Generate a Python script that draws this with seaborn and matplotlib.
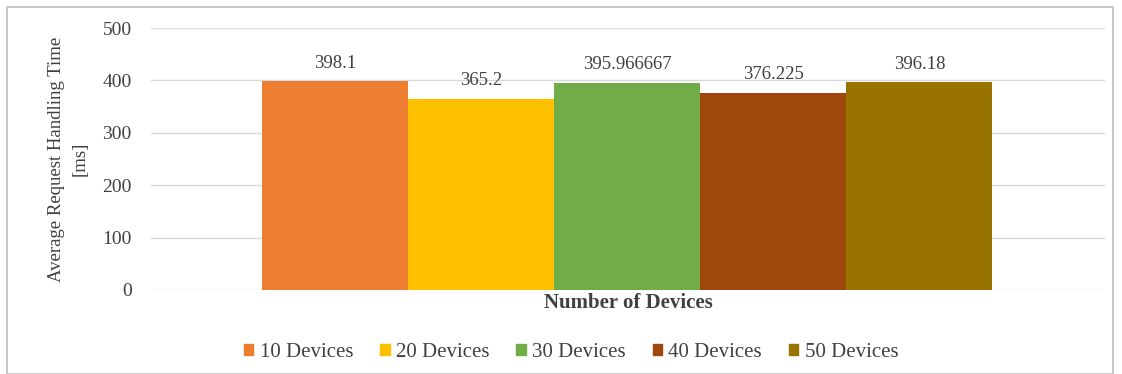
import matplotlib
matplotlib.use("Agg")
import matplotlib.pyplot as plt
import seaborn as sns
import pandas as pd
from matplotlib.patches import Rectangle

categories = ["10 Devices", "20 Devices", "30 Devices", "40 Devices", "50 Devices"]
values = [398.1, 365.2, 395.966667, 376.225, 396.18]
value_labels = ["398.1", "365.2", "395.966667", "376.225", "396.18"]
colors = ["#ED7D31", "#FFC000", "#70AD47", "#9E480E", "#997300"]
yticks = [0, 100, 200, 300, 400, 500]

sns.set_theme(style="white")
plt.rcParams['font.family'] = ['Liberation Serif', 'DejaVu Serif']

df = pd.DataFrame({"Devices": categories, "Time": values})

fig = plt.figure(figsize=(11.22, 3.74), dpi=100)
ax = fig.add_axes([0.1346, 0.2246, 0.8502, 0.7004])

sns.barplot(data=df, x="Devices", y="Time", hue="Devices", palette=colors,
            width=1.0, dodge=False, legend=False, ax=ax, saturation=1,
            linewidth=0)

ax.set_xlim(-1.26, 5.27)
ax.set_ylim(0, 500)
ax.set_yticks(yticks)
ax.set_yticklabels([str(t) for t in yticks], fontsize=14, color="#404040")
ax.set_xticks([])
ax.yaxis.grid(True, color="#d9d9d9", linewidth=1)
ax.set_axisbelow(True)
for s in ax.spines.values():
    s.set_visible(False)
ax.tick_params(axis="y", length=0, pad=14)

for i, (v, lab) in enumerate(zip(values, value_labels)):
    ax.annotate(lab, (i, v), xytext=(0, 7), textcoords="offset points",
                ha="center", va="bottom", fontsize=13.5, color="#404040")

ax.set_xlabel("Number of Devices", fontsize=15, fontweight="bold", color="#404040", labelpad=2)
ax.set_ylabel("Average Request Handling Time\n[ms]", fontsize=13.5, color="#404040",
              linespacing=1.45, labelpad=10)

handles = [Rectangle((0, 0), 1, 1, color=c) for c in colors]
fig.legend(handles, categories, loc="center", bbox_to_anchor=(0.509, 0.057), ncol=5,
           frameon=False, fontsize=15, handlelength=0.45, handleheight=0.45,
           handletextpad=0.3, columnspacing=1.3, labelcolor="#404040")

fig.patches.append(Rectangle((7 / 1122, 0.0), 1 - 7 / 1122 - 9 / 1122, 1 - 7 / 374,
                             transform=fig.transFigure, fill=False,
                             edgecolor="#bfbfbf", linewidth=1.2))

fig.savefig("out.png", dpi=100)
